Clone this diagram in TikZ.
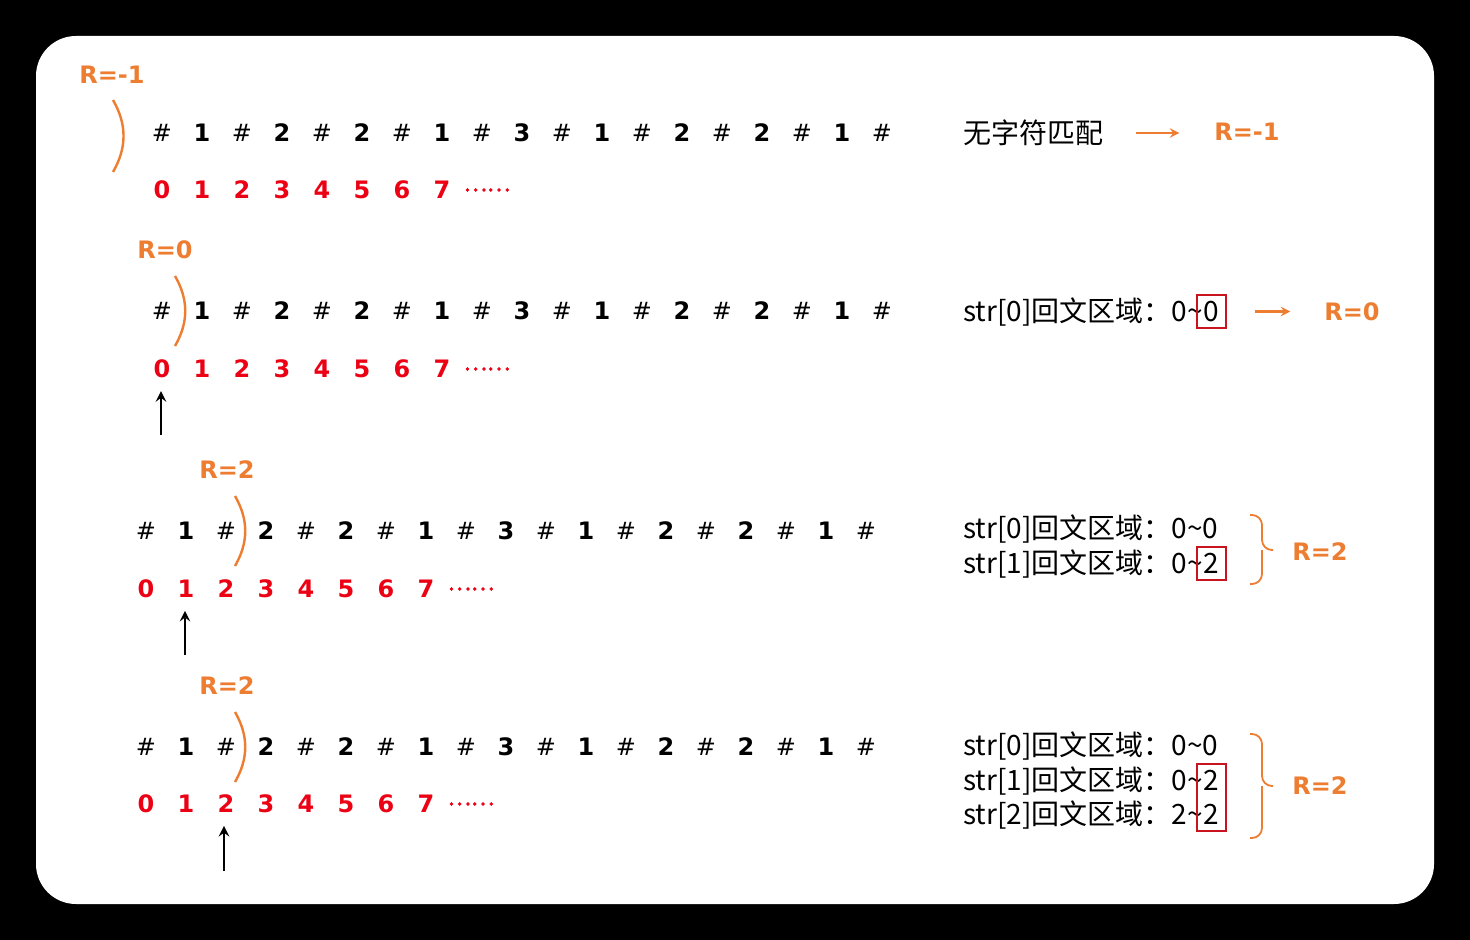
\documentclass[tikz,border=0pt]{standalone}
\usepackage{fontspec}
\setmainfont{DejaVu Sans}
\newfontfamily\cjk{Noto Sans CJK SC}
\newfontfamily\cjkdots[FakeBold=2.5]{Noto Sans CJK SC}
\usetikzlibrary{fit}
\definecolor{arcorange}{RGB}{237,125,49}
\definecolor{idxred}{RGB}{235,0,20}
\definecolor{boxred}{RGB}{200,20,30}
\newcommand\hsh{{\mdseries\#}}

\begin{document}
\begin{tikzpicture}[x=0.5pt,y=-0.5pt,>=stealth,
    ch/.style={font=\fontsize{12}{14}\selectfont\bfseries},
    idx/.style={ch,text=idxred},
    rlab/.style={font=\fontsize{12}{14}\selectfont\bfseries,text=arcorange},
    info/.style={font=\cjk\fontsize{14}{17}\selectfont,anchor=west,inner sep=0pt},
    cut/.style={draw=arcorange,line width=1.2pt},
    hit/.style={draw=boxred,line width=1pt,inner sep=3pt},
    oarrow/.style={->,draw=arcorange,line width=1.1pt},
    up/.style={->,line width=1.3pt,shorten >=3pt},
    obrace/.style={draw=arcorange,line width=0.9pt,rounded corners=5pt}]
  \fill[black] (0,0) rectangle (1470,940);
  \fill[white,rounded corners=20pt] (36,36) rectangle (1434,904);

  \foreach \r/\x/\y/\yi in {1/162/133/190,2/162/311/369,3/146/531/589,4/146/747/804} {
    \foreach \c [count=\i from 0] in {\hsh,1,\hsh,2,\hsh,2,\hsh,1,\hsh,3,\hsh,1,\hsh,2,\hsh,2,\hsh,1,\hsh}
      \node[ch] (c\r-\i) at (\x+40*\i,\y) {\c};
    \foreach \i in {0,...,7}
      \node[idx] (i\r-\i) at (\x+40*\i,\yi) {\i};
    \node[text=idxred,font=\cjkdots\fontsize{11}{14}\selectfont] (d\r) at (\x+325,\yi) {……};
  }

  \draw[cut] (113,100) to[bend left=30] (113,172);
  \draw[cut] (175,276) to[bend left=30] (175,346);
  \draw[cut] (235,496) to[bend left=30] (235,566);
  \draw[cut] (235,712) to[bend left=30] (235,782);

  \node[rlab] (l1) at (112,75) {R=-1};
  \node[rlab] (l2) at (165,250) {R=0};
  \node[rlab] (l3) at (227,470) {R=2};
  \node[rlab] (l4) at (227,686) {R=2};

  \coordinate (p2) at (161,435);
  \coordinate (p3) at (185,655);
  \coordinate (p4) at (224,871);
  \draw[up] (p2) -- (p2 |- i2-0.south);
  \draw[up] (p3) -- (p3 |- i3-1.south);
  \draw[up] (p4) -- (p4 |- i4-2.south);

  \node[info] (m1) at (963,133) {无字符匹配};
  \node[rlab] (R1) at (1247,132) {R=-1};
  \draw[oarrow,shorten <=16pt,shorten >=14pt] (m1.east) -- (m1.east -| R1.west);

  \node[info] (s2) at (963,312) {str[0]回文区域：0\textasciitilde};
  \node[info,anchor=base west] (v2) at (s2.base east) {0};
  \node[hit,fit=(v2)] (b2) {};
  \node[rlab] (R2) at (1352,312) {R=0};
  \draw[oarrow,shorten <=14pt,shorten >=13.5pt] (b2.east) -- (b2.east -| R2.west);

  \node[info] (s3a) at (963,529) {str[0]回文区域：0\textasciitilde 0};
  \node[info] (s3b) at (963,564) {str[1]回文区域：0\textasciitilde};
  \node[info,anchor=base west] (v3) at (s3b.base east) {2};
  \node[hit,fit=(v3)] (b3) {};
  \coordinate (k3t) at (1250,515);
  \coordinate (k3b) at (1250,584);
  \coordinate (k3m) at (1273,550);
  \draw[obrace] (k3t) -| (1262,550) -- (k3m);
  \draw[obrace] (k3b) -| (1262,550);
  \node[rlab] (R3) at (1320,552) {R=2};

  \node[info] (s4a) at (963,746) {str[0]回文区域：0\textasciitilde 0};
  \node[info] (s4b) at (963,781) {str[1]回文区域：0\textasciitilde};
  \node[info,anchor=base west] (v4b) at (s4b.base east) {2};
  \node[info] (s4c) at (963,815) {str[2]回文区域：2\textasciitilde};
  \node[info,anchor=base west] (v4c) at (s4c.base east) {2};
  \node[hit,fit=(v4b)(v4c)] (b4) {};
  \coordinate (k4t) at (1250,734);
  \coordinate (k4b) at (1250,838);
  \coordinate (k4m) at (1273,786);
  \draw[obrace] (k4t) -| (1262,786) -- (k4m);
  \draw[obrace] (k4b) -| (1262,786);
  \node[rlab] (R4) at (1320,786) {R=2};
\end{tikzpicture}
\end{document}
